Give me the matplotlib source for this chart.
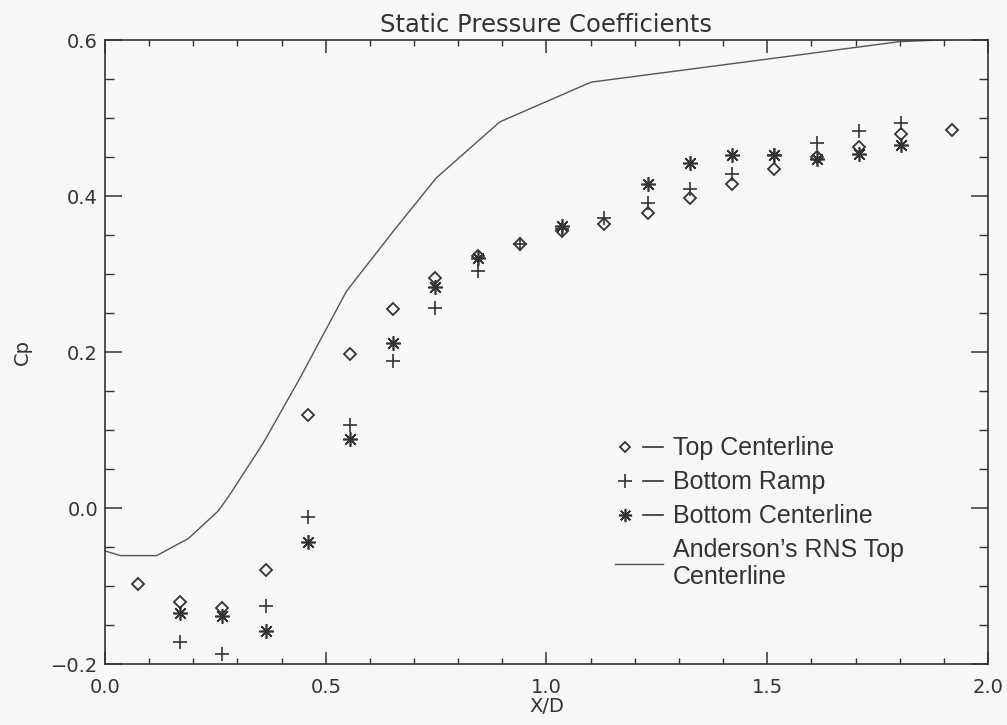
import numpy as np
import matplotlib
matplotlib.use("Agg")
import matplotlib.pyplot as plt
from matplotlib.lines import Line2D
from matplotlib.legend_handler import HandlerTuple
from matplotlib.ticker import MultipleLocator

# station positions (x/D)
x_stations = [
    0.074, 0.170, 0.266, 0.364, 0.460, 0.554, 0.652, 0.747, 0.845, 0.939,
    1.035, 1.131, 1.229, 1.324, 1.421, 1.516, 1.613, 1.708, 1.803, 1.919
]

cp_top_centerline = [
    -0.098, -0.121, -0.128, -0.079, 0.119, 0.197, 0.255, 0.295, 0.323, 0.339,
    0.355, 0.364, 0.378, 0.397, 0.416, 0.435, 0.450, 0.463, 0.480, 0.485
]

# bottom series start at the 2nd station and end at the 19th
cp_bottom_ramp = [
    -0.172, -0.187, -0.126, -0.011, 0.107, 0.188, 0.257, 0.304, 0.338,
    0.358, 0.372, 0.391, 0.409, 0.428, 0.452, 0.468, 0.483, 0.493
]

cp_bottom_centerline = [
    -0.134, -0.138, -0.158, -0.044, 0.089, 0.211, 0.284, 0.321, np.nan,
    0.361, np.nan, 0.415, 0.442, 0.452, 0.452, 0.448, 0.454, 0.466
]

# Anderson's RNS top centerline (polyline vertices)
x_anderson = [
    0.0, 0.035, 0.117, 0.189, 0.256, 0.279, 0.358, 0.440,
    0.547, 0.656, 0.750, 0.894, 1.101, 1.520, 1.800, 1.940, 2.0
]
cp_anderson = [
    -0.055, -0.061, -0.061, -0.039, -0.004, 0.014, 0.083, 0.165,
    0.278, 0.357, 0.423, 0.495, 0.546, 0.577, 0.598, 0.601, 0.602
]

INK = "#333333"
BG = "#f7f7f7"


def plot_static_pressure(filename):

    fig = plt.figure(
        figsize=(10.07, 7.25),
        dpi=100,
        facecolor=BG
    )

    ax = fig.add_axes(
        [0.1043, 0.0841, 0.8768, 0.8607],
        facecolor=BG
    )

    x_bottom = x_stations[1:19]

    ax.plot(
        x_anderson,
        cp_anderson,
        color="#555555",
        linewidth=1.0
    )

    ax.plot(
        x_stations,
        cp_top_centerline,
        linestyle="none",
        marker="D",
        markersize=6.5,
        markerfacecolor="none",
        markeredgecolor=INK,
        markeredgewidth=1.3
    )

    ax.plot(
        x_bottom,
        cp_bottom_ramp,
        linestyle="none",
        marker="+",
        markersize=10.5,
        color=INK,
        markeredgewidth=1.2
    )

    ax.plot(
        x_bottom,
        cp_bottom_centerline,
        linestyle="none",
        marker=(8, 2, 0),
        markersize=10.5,
        color=INK,
        markeredgewidth=1.2
    )

    ax.set_xlim(0.0, 2.0)
    ax.set_ylim(-0.2, 0.6)

    ax.xaxis.set_major_locator(MultipleLocator(0.5))
    ax.xaxis.set_minor_locator(MultipleLocator(0.1))
    ax.yaxis.set_major_locator(MultipleLocator(0.2))
    ax.yaxis.set_minor_locator(MultipleLocator(0.05))

    ax.tick_params(
        axis="x",
        which="both",
        direction="in",
        top=True,
        bottom=True,
        colors=INK,
        labelsize=14,
        pad=10
    )
    ax.tick_params(axis="x", which="major", length=9, width=1.1)
    ax.tick_params(axis="x", which="minor", length=4.5, width=1.0)

    ax.tick_params(
        axis="y",
        which="both",
        direction="in",
        left=True,
        right=True,
        colors=INK,
        labelsize=14,
        pad=5
    )
    ax.tick_params(axis="y", which="major", length=12.5, width=1.1)
    ax.tick_params(axis="y", which="minor", length=6.5, width=1.0)

    for spine in ax.spines.values():
        spine.set_color(INK)
        spine.set_linewidth(1.2)

    ax.set_title(
        "Static Pressure Coefficients",
        fontsize=17.5,
        color=INK,
        pad=6
    )

    ax.set_xlabel(
        "X/D",
        fontsize=14,
        color=INK,
        labelpad=0
    )

    ax.set_ylabel(
        "Cp",
        fontsize=14,
        color=INK,
        labelpad=14
    )

    # legend: marker, short dash, label (IDL-style)
    dash = Line2D([], [], color=INK, linewidth=1.2)
    handles = [
        (Line2D([], [], linestyle="none", marker="D", markersize=5.5,
                markerfacecolor="none", markeredgecolor=INK,
                markeredgewidth=1.3), dash),
        (Line2D([], [], linestyle="none", marker="+", markersize=10,
                color=INK, markeredgewidth=1.2), dash),
        (Line2D([], [], linestyle="none", marker=(8, 2, 0), markersize=9.5,
                color=INK, markeredgewidth=1.2), dash),
        Line2D([], [], color="#555555", linewidth=1.0),
    ]
    labels = [
        "Top Centerline",
        "Bottom Ramp",
        "Bottom Centerline",
        "Anderson\u2019s RNS Top\nCenterline",
    ]

    leg = ax.legend(
        handles,
        labels,
        handler_map={tuple: HandlerTuple(ndivide=None, pad=0.3)},
        loc="upper left",
        bbox_to_anchor=(0.578, 0.365),
        frameon=False,
        borderpad=0,
        borderaxespad=0,
        handlelength=1.9,
        handletextpad=0.4,
        labelspacing=0.4,
        prop={"family": "Liberation Sans", "size": 18}
    )
    for text in leg.get_texts():
        text.set_color(INK)
        text.set_linespacing(1.15)

    fig.savefig(
        filename,
        dpi=100,
        facecolor=BG
    )

    plt.close(fig)


plot_static_pressure("out.png")
